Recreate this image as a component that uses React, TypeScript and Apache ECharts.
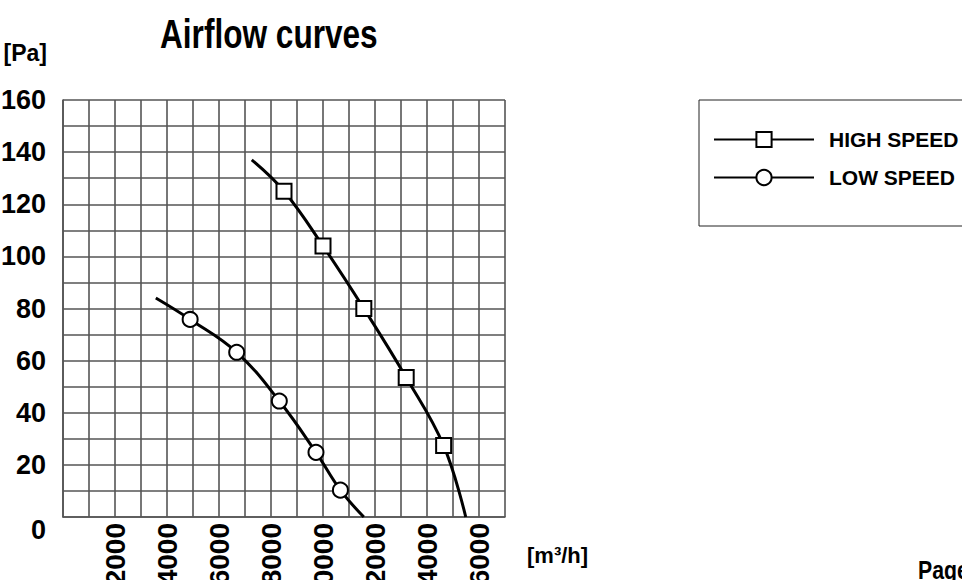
import React, { useEffect, useRef } from "react";
import * as echarts from "echarts";

const FONT = "'Liberation Sans', Arial, sans-serif";

// High speed curve: [flow m3/h, pressure Pa]; first and last are curve ends (no marker)
const highSpeedFlow = [7260, 8500, 10000, 11570, 13200, 14640, 15490];
const highSpeedPa = [137, 125, 104, 80, 53.5, 27.4, 0];
const highSpeedMarked = [false, true, true, true, true, true, false];

const lowSpeedFlow = [3570, 4890, 6680, 8320, 9730, 10670, 11570];
const lowSpeedPa = [84, 75.8, 63.2, 44.5, 24.8, 10.3, 0];
const lowSpeedMarked = [false, true, true, true, true, true, false];

const seriesNames = ["HIGH SPEED", "LOW SPEED"];
const xTickLabels = [2000, 4000, 6000, 8000, 10000, 12000, 14000, 16000];
const yTickLabels = [0, 20, 40, 60, 80, 100, 120, 140, 160];
const titleText = "Airflow curves";
const pageText = "Page";

function buildData(flow: number[], pa: number[], marked: boolean[]) {
  return flow.map((f, i) =>
    marked[i] ? { value: [f, pa[i]] } : { value: [f, pa[i]], symbol: "none" }
  );
}

export default function App() {
  const ref = useRef<HTMLDivElement>(null);
  useEffect(() => {
    if (!ref.current) return;
    const chart = echarts.init(ref.current, null, { renderer: "svg" });
    const markerStyle = { color: "#fff", borderColor: "#000", borderWidth: 2 };
    const gridLine = { color: "#555", width: 1.6 };
    chart.setOption({
      animation: false,
      backgroundColor: "#fff",
      legend: {
        left: 699,
        top: 100,
        orient: "vertical",
        data: seriesNames,
        itemWidth: 100,
        itemHeight: 19,
        itemGap: 17,
        padding: [29, 40, 38, 14],
        borderColor: "#222",
        borderWidth: 1,
        lineStyle: { width: 2, color: "#000" },
        textStyle: { fontFamily: FONT, fontSize: 21, fontWeight: "bold", color: "#000", padding: [0, 0, 0, 10] },
      },
      grid: { left: 63, top: 100, width: 442, height: 417, containLabel: false, outerBoundsMode: "none" },
      xAxis: {
        type: "value",
        min: 0,
        max: 17000,
        interval: 1000,
        name: "[m³/h]",
        nameLocation: "end",
        nameGap: 22,
        nameTextStyle: { fontFamily: FONT, fontSize: 22, fontWeight: "bold", color: "#000", verticalAlign: "top", padding: [27, 0, 0, 0] },
        axisLine: { show: true, lineStyle: gridLine },
        axisTick: { show: false },
        splitLine: { show: true, lineStyle: gridLine },
        axisLabel: {
          rotate: 90,
          margin: 6,
          fontFamily: FONT,
          fontSize: 28,
          fontWeight: "bold",
          color: "#000",
          showMinLabel: false,
          showMaxLabel: false,
          formatter: (v: number) => (xTickLabels.indexOf(v) >= 0 ? String(v) : ""),
        },
      },
      yAxis: {
        type: "value",
        min: 0,
        max: 160,
        interval: 10,
        name: "[Pa]",
        nameLocation: "end",
        nameGap: 47,
        nameTextStyle: { fontFamily: FONT, fontSize: 23, fontWeight: "bold", color: "#000", align: "right", verticalAlign: "middle", padding: [0, 16, 0, 0] },
        axisLine: { show: true, lineStyle: gridLine },
        axisTick: { show: false },
        splitLine: { show: true, lineStyle: gridLine },
        axisLabel: {
          margin: 17,
          fontFamily: FONT,
          fontSize: 27,
          fontWeight: "bold",
          color: "#000",
          formatter: (v: number) =>
            v === 0 ? "{z|0}" : yTickLabels.indexOf(v) >= 0 ? String(v) : "",
          rich: {
            z: { fontFamily: FONT, fontSize: 27, fontWeight: "bold", color: "#000", padding: [26, 0, 0, 0] },
          },
        },
      },
      graphic: [
        {
          type: "text",
          x: 160,
          y: 14,
          scaleX: 0.79,
          style: {
            text: titleText,
            fontFamily: FONT,
            fontSize: 40,
            fontWeight: "bold",
            fill: "#000",
            textVerticalAlign: "top",
          },
        },
        {
          type: "text",
          x: 918,
          y: 558,
          scaleX: 0.85,
          style: {
            text: pageText,
            fontFamily: FONT,
            fontSize: 25,
            fontWeight: "bold",
            fill: "#000",
            textVerticalAlign: "top",
          },
        },
      ],
      series: [
        {
          name: seriesNames[0],
          type: "line",
          smooth: 0.4,
          symbol: "rect",
          symbolSize: 15,
          lineStyle: { color: "#000", width: 3 },
          itemStyle: markerStyle,
          data: buildData(highSpeedFlow, highSpeedPa, highSpeedMarked),
          z: 3,
        },
        {
          name: seriesNames[1],
          type: "line",
          smooth: 0.4,
          symbol: "circle",
          symbolSize: 15,
          lineStyle: { color: "#000", width: 3 },
          itemStyle: markerStyle,
          data: buildData(lowSpeedFlow, lowSpeedPa, lowSpeedMarked),
          z: 3,
        },
      ],
    });
    return () => chart.dispose();
  }, []);
  return (
    <div
      ref={ref}
      style={{ position: "fixed", left: 0, top: 0, width: 962, height: 580, background: "#fff" }}
    />
  );
}
